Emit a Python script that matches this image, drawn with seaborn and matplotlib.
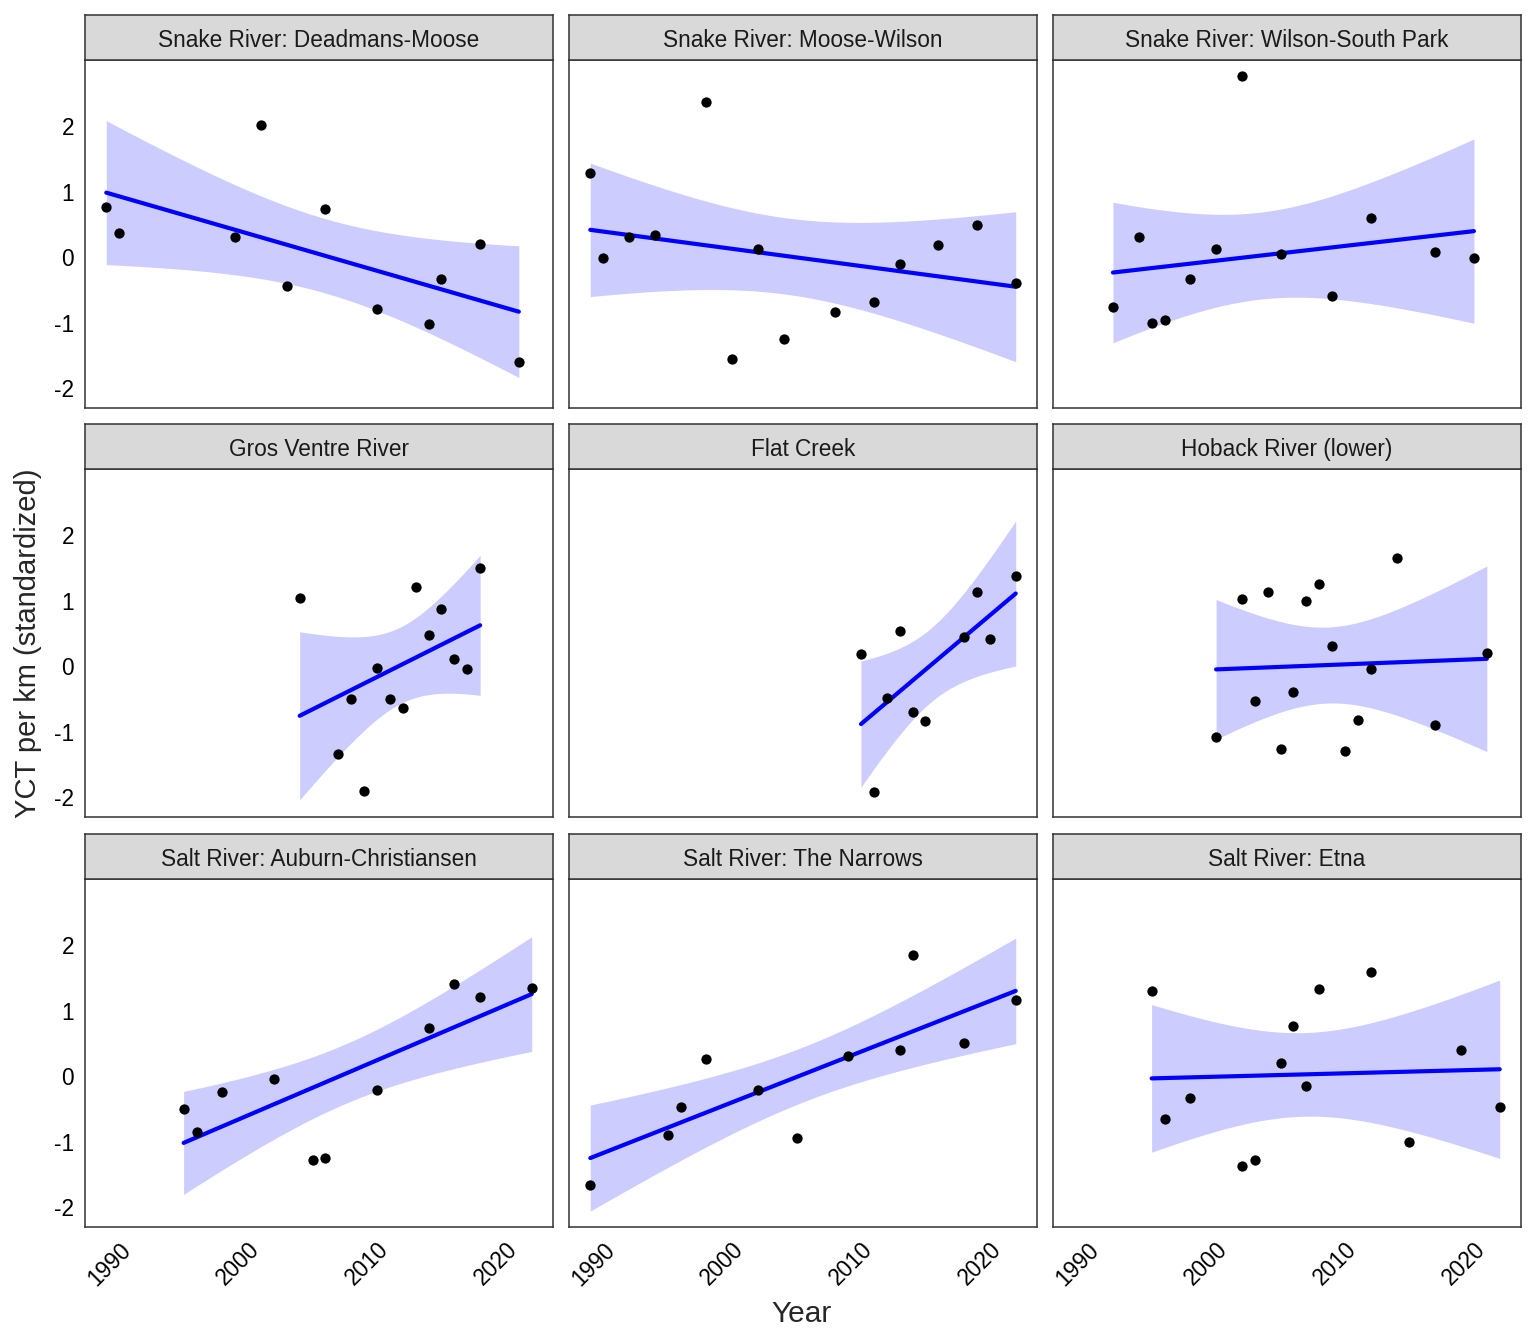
import math
import numpy as np
import pandas as pd
import matplotlib
matplotlib.use("Agg")
import matplotlib.pyplot as plt
import seaborn as sns

# ---- data ----
site_names = [
    "Snake River: Deadmans-Moose", "Snake River: Moose-Wilson", "Snake River: Wilson-South Park",
    "Gros Ventre River", "Flat Creek", "Hoback River (lower)",
    "Salt River: Auburn-Christiansen", "Salt River: The Narrows", "Salt River: Etna",
]

dm_years = [1989, 1990, 1999, 2001, 2003, 2006, 2010, 2014, 2015, 2018, 2021]
dm_vals = [0.77, 0.37, 0.30, 2.01, -0.44, 0.73, -0.80, -1.02, -0.33, 0.20, -1.60]

mw_years = [1989, 1990, 1992, 1994, 1998, 2000, 2002, 2004, 2008, 2011, 2013, 2016, 2019, 2022]
mw_vals = [1.28, -0.02, 0.31, 0.34, 2.37, -1.56, 0.12, -1.25, -0.84, -0.69, -0.11, 0.19, 0.49, -0.40]

ws_years = [1992, 1994, 1995, 1996, 1998, 2000, 2002, 2005, 2009, 2012, 2017, 2020]
ws_vals = [-0.76, 0.31, -1.01, -0.96, -0.34, 0.12, 2.77, 0.04, -0.60, 0.60, 0.07, -0.01]

gv_years = [2004, 2007, 2008, 2009, 2010, 2011, 2012, 2013, 2014, 2015, 2016, 2017, 2018]
gv_vals = [1.04, -1.35, -0.51, -1.91, -0.03, -0.51, -0.64, 1.20, 0.48, 0.87, 0.11, -0.05, 1.49]

fc_years = [2010, 2011, 2012, 2013, 2014, 2015, 2018, 2019, 2020, 2022]
fc_vals = [0.19, -1.93, -0.49, 0.53, -0.70, -0.84, 0.44, 1.13, 0.41, 1.37]

hb_years = [2000, 2002, 2003, 2004, 2005, 2006, 2007, 2008, 2009, 2010, 2011, 2012, 2014, 2017, 2021]
hb_vals = [-1.09, 1.03, -0.53, 1.13, -1.26, -0.39, 0.99, 1.25, 0.30, -1.30, -0.82, -0.04, 1.65, -0.90, 0.20]

ac_years = [1995, 1996, 1998, 2002, 2005, 2006, 2010, 2014, 2016, 2018, 2022]
ac_vals = [-0.51, -0.85, -0.25, -0.04, -1.28, -1.25, -0.22, 0.74, 1.40, 1.21, 1.35]

tn_years = [1989, 1995, 1996, 1998, 2002, 2005, 2009, 2013, 2014, 2018, 2022]
tn_vals = [-1.66, -0.90, -0.47, 0.26, -0.22, -0.94, 0.31, 0.40, 1.85, 0.51, 1.16]

et_years = [1995, 1996, 1998, 2002, 2003, 2005, 2006, 2007, 2008, 2012, 2015, 2019, 2022]
et_vals = [1.30, -0.65, -0.34, -1.37, -1.28, 0.20, 0.77, -0.15, 1.33, 1.59, -1.00, 0.39, -0.47]

x_ticks = [1990, 2000, 2010, 2020]
y_ticks = [-2, -1, 0, 1, 2]

series = [
    (dm_years, dm_vals), (mw_years, mw_vals), (ws_years, ws_vals),
    (gv_years, gv_vals), (fc_years, fc_vals), (hb_years, hb_vals),
    (ac_years, ac_vals), (tn_years, tn_vals), (et_years, et_vals),
]


def t_ppf(p, dof):
    """Quantile of Student's t distribution (numeric, no scipy)."""
    c = math.gamma((dof + 1) / 2) / (math.sqrt(dof * math.pi) * math.gamma(dof / 2))

    def cdf(t):
        xs = np.linspace(0.0, t, 4001)
        pdf = c * (1 + xs ** 2 / dof) ** (-(dof + 1) / 2)
        return 0.5 + np.trapezoid(pdf, xs)

    lo, hi = 0.0, 20.0
    for _ in range(60):
        mid = 0.5 * (lo + hi)
        if cdf(mid) < p:
            lo = mid
        else:
            hi = mid
    return 0.5 * (lo + hi)


def lm_band(x, y, n=80):
    """Analytic 95% confidence band of an OLS fit (as geom_smooth(method='lm'))."""
    x = np.asarray(x, float)
    y = np.asarray(y, float)
    k = len(x)
    b1, b0 = np.polyfit(x, y, 1)
    resid = y - (b0 + b1 * x)
    s = math.sqrt(np.sum(resid ** 2) / (k - 2))
    xm = x.mean()
    sxx = np.sum((x - xm) ** 2)
    grid = np.linspace(x.min(), x.max(), n)
    fit = b0 + b1 * grid
    se = s * np.sqrt(1 / k + (grid - xm) ** 2 / sxx)
    tq = t_ppf(0.975, k - 2)
    return grid, fit - tq * se, fit + tq * se


# ---- style ----
sns.set_style("white")
plt.rcParams["font.family"] = ["Liberation Sans", "DejaVu Sans"]
plt.rcParams["axes.unicode_minus"] = False

W, H = 1536, 1344
fig = plt.figure(figsize=(W / 100, H / 100), dpi=100)

col_left = [85, 569, 1053]
panel_w = 468
row_top = [60, 469, 879]
panel_h = 348
strip_h = 45
edge = "#333333"
fs_small = 16.3

for i, (name, (yrs, vals)) in enumerate(zip(site_names, series)):
    r, c = divmod(i, 3)
    x0 = col_left[c]
    top = row_top[r]
    ax = fig.add_axes([x0 / W, 1 - (top + panel_h) / H, panel_w / W, panel_h / H])
    df = pd.DataFrame({"Year": yrs, "YCT": vals})
    grid, lo, hi = lm_band(df["Year"], df["YCT"])
    ax.fill_between(grid, lo, hi, color="blue", alpha=0.2, linewidth=0, zorder=2)
    sns.regplot(data=df, x="Year", y="YCT", ax=ax, ci=None,
                color="blue",
                scatter_kws=dict(s=55, color="black", linewidths=0, zorder=4, alpha=1),
                line_kws=dict(color="blue", lw=3.0, zorder=3))
    ax.set_xlim(1987.35, 2023.65)
    ax.set_ylim(-2.305, 3.008)
    ax.set_xticks(x_ticks)
    ax.set_yticks(y_ticks)
    ax.set_xlabel("")
    ax.set_ylabel("")
    ax.set_facecolor("white")
    for sp in ax.spines.values():
        sp.set_color(edge)
        sp.set_linewidth(1.1)
    ax.tick_params(axis="both", direction="out", length=5, width=1.1, color=edge,
                   labelsize=fs_small, labelcolor="black", pad=3)
    if c != 0:
        ax.tick_params(axis="y", labelleft=False)
    if r != 2:
        ax.tick_params(axis="x", labelbottom=False)
    else:
        for lab in ax.get_xticklabels():
            lab.set_rotation(45)
            lab.set_ha("right")
            lab.set_va("top")
            lab.set_rotation_mode("anchor")
    # strip
    sax = fig.add_axes([x0 / W, 1 - top / H, panel_w / W, strip_h / H])
    sax.set_facecolor("#D9D9D9")
    sax.set_xticks([])
    sax.set_yticks([])
    for sp in sax.spines.values():
        sp.set_color(edge)
        sp.set_linewidth(1.1)
    sax.text(0.5, 0.43, name, ha="center", va="center", fontsize=fs_small, color="#1A1A1A",
             transform=sax.transAxes)

fig.text(802 / W, 1 - 1314 / H, "Year", ha="center", va="center", fontsize=21.5)
fig.text(28 / W, 1 - 643 / H, "YCT per km (standardized)", ha="center", va="center",
         rotation=90, fontsize=21)

fig.savefig("out.png", dpi=100, facecolor="white")
